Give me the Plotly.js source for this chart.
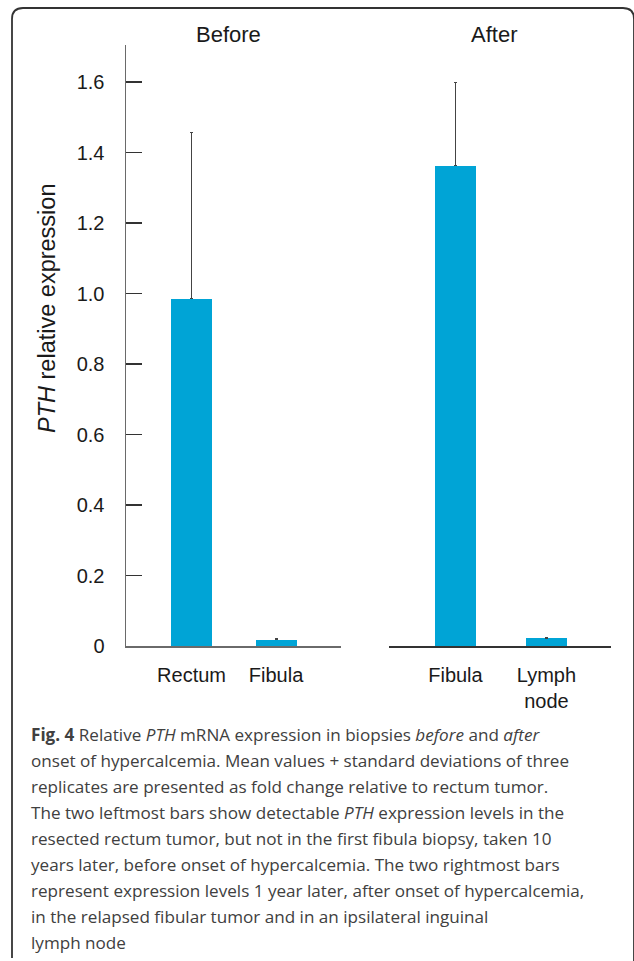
<!DOCTYPE html>
<html>
<head>
<meta charset="utf-8">
<script src="https://cdn.plot.ly/plotly-3.0.1.min.js"></script>
<style>
html,body{margin:0;padding:0;background:#fff;}
#chart{width:634px;height:961px;}
</style>
</head>
<body>
<div id="chart"></div>
<script>
// ---- data ----
const beforeCategories = ["Rectum", "Fibula"];
const beforeValues = [0.985, 0.018];
const beforeSD = [0.473, 0.003];

const afterCategories = ["Fibula", "Lymph<br>node"];
const afterValues = [1.362, 0.022];
const afterSD = [0.238, 0.003];

const panelTitles = ["Before", "After"];
const yTickVals = [0, 0.2, 0.4, 0.6, 0.8, 1.0, 1.2, 1.4, 1.6];
const yTickText = ["0", "0.2", "0.4", "0.6", "0.8", "1.0", "1.2", "1.4", "1.6"];
const yAxisTitle = "<i>PTH</i> relative expression";

const captionLines = [
  "<b>Fig. 4</b> Relative <i>PTH</i> mRNA expression in biopsies <i>before</i> and <i>after</i>",
  "onset of hypercalcemia. Mean values + standard deviations of three",
  "replicates are presented as fold change relative to rectum tumor.",
  "The two leftmost bars show detectable <i>PTH</i> expression levels in the",
  "resected rectum tumor, but not in the first fibula biopsy, taken 10",
  "years later, before onset of hypercalcemia. The two rightmost bars",
  "represent expression levels 1 year later, after onset of hypercalcemia,",
  "in the relapsed fibular tumor and in an ipsilateral inguinal",
  "lymph node"
];

// ---- layout helpers (pixel -> paper) ----
const W = 634, H = 961;
const px = x => x / W;
const py = y => 1 - y / H;

const barColor = "#00A4D6";
const chartFont = "Liberation Sans, Arial, sans-serif";

const traces = [
  {
    type: "bar", x: [0, 1], y: beforeValues, xaxis: "x", yaxis: "y",
    width: 0.485, marker: {color: barColor},
    error_y: {type: "data", symmetric: false, array: beforeSD, arrayminus: beforeSD.map(() => 0),
              color: "#444", thickness: 1, width: 1.5},
    hoverinfo: "skip", showlegend: false
  },
  {
    type: "bar", x: [0, 1], y: afterValues, xaxis: "x2", yaxis: "y2",
    width: 0.45, marker: {color: barColor},
    error_y: {type: "data", symmetric: false, array: afterSD, arrayminus: afterSD.map(() => 0),
              color: "#444", thickness: 1, width: 1.5},
    hoverinfo: "skip", showlegend: false
  }
];

const yRange = [0, 1.705];
const yDomain = [py(646), py(45)];

const annotations = [
  {text: panelTitles[0], x: px(228), y: py(34), xref: "paper", yref: "paper",
   showarrow: false, xanchor: "center", yanchor: "middle",
   font: {family: chartFont, size: 22, color: "#1a1a1a"}},
  {text: panelTitles[1], x: px(494), y: py(34), xref: "paper", yref: "paper",
   showarrow: false, xanchor: "center", yanchor: "middle",
   font: {family: chartFont, size: 22, color: "#1a1a1a"}},
  {text: yAxisTitle, x: px(47), y: py(309), xref: "paper", yref: "paper",
   showarrow: false, textangle: -90, xanchor: "center", yanchor: "middle",
   font: {family: chartFont, size: 23.5, color: "#1a1a1a"}}
];

captionLines.forEach((line, i) => {
  annotations.push({
    text: line, x: px(29), y: py(734 + i * 26), xref: "paper", yref: "paper",
    showarrow: false, xanchor: "left", yanchor: "middle", align: "left",
    font: {family: "Open Sans, sans-serif", size: 17.1, color: "#404040"}
  });
});

const layout = {
  width: W, height: H,
  margin: {l: 0, r: 0, t: 0, b: 0},
  paper_bgcolor: "#fff", plot_bgcolor: "rgba(0,0,0,0)",
  bargap: 0,
  xaxis: {
    domain: [px(126), px(341)], anchor: "y", range: [-0.776, 1.769],
    tickmode: "array", tickvals: [0, 1], ticktext: beforeCategories,
    showline: true, linecolor: "#6a6a6a", linewidth: 1.5,
    ticks: "", showgrid: false, zeroline: false, fixedrange: true,
    ticklabelstandoff: 10,
    tickfont: {family: chartFont, size: 20, color: "#1a1a1a"}
  },
  yaxis: {
    domain: yDomain, anchor: "x", range: yRange,
    tickmode: "array", tickvals: yTickVals, ticktext: yTickText,
    showline: true, linecolor: "#6a6a6a", linewidth: 1.5,
    ticks: "inside", ticklen: 16, tickwidth: 1.5, tickcolor: "#333",
    showgrid: false, zeroline: false, fixedrange: true,
    ticklabelstandoff: 16,
    tickfont: {family: chartFont, size: 20, color: "#1a1a1a"}
  },
  xaxis2: {
    domain: [px(389), px(611)], anchor: "y2", range: [-0.730, 1.709],
    tickmode: "array", tickvals: [0, 1], ticktext: afterCategories,
    showline: true, linecolor: "#333", linewidth: 1.5,
    ticks: "", showgrid: false, zeroline: false, fixedrange: true,
    ticklabelstandoff: 10,
    tickfont: {family: chartFont, size: 20, color: "#1a1a1a"}
  },
  yaxis2: {
    domain: yDomain, anchor: "x2", range: yRange,
    showline: false, showticklabels: false, ticks: "",
    showgrid: false, zeroline: false, fixedrange: true
  },
  shapes: [
    {type: "path", xref: "paper", yref: "paper",
     path: `M ${px(12)} ${py(958)} L ${px(12)} ${py(19)} Q ${px(12)} ${py(8)} ${px(23)} ${py(8)} L ${px(623)} ${py(8)} Q ${px(634)} ${py(8)} ${px(634)} ${py(19)} L ${px(634)} ${py(961)}`,
     line: {color: "#333", width: 1.8}}
  ],
  annotations: annotations
};

Plotly.newPlot("chart", traces, layout, {displayModeBar: false, staticPlot: true});
</script>
</body>
</html>
